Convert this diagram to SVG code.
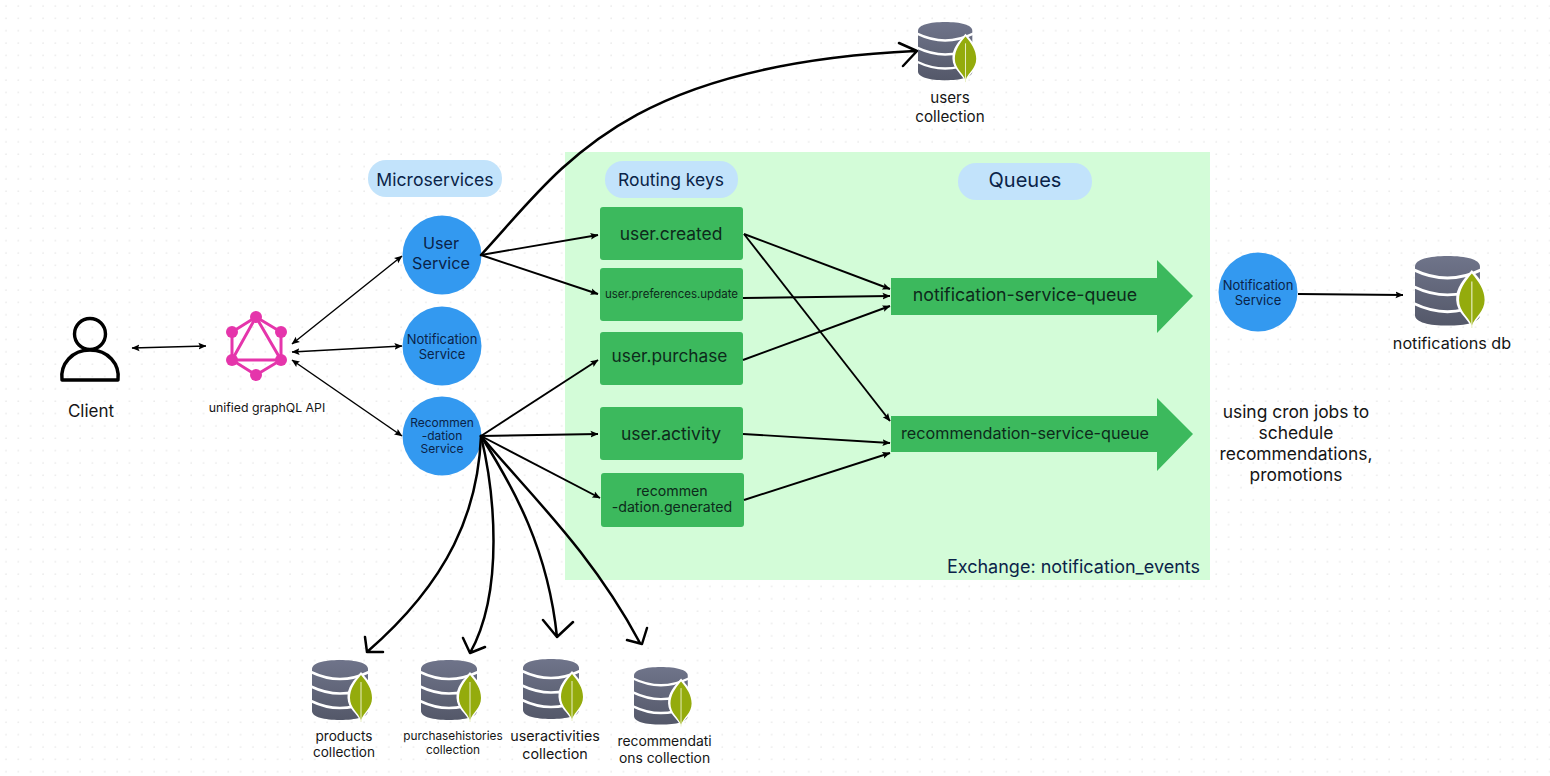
<svg xmlns="http://www.w3.org/2000/svg" width="1550" height="776" viewBox="0 0 1550 776">
<style>
text{font-family:"Inter","Noto Sans","Liberation Sans",sans-serif;fill:#151515;text-anchor:middle}
.c{fill:#3399f0}
.g{fill:#3cb95d}
.p{fill:#c2e3fb}
.n{fill:#0a2348}
.d{fill:#0d2a1b}
.l{fill:none;stroke:#000;stroke-width:1.9}
.t{fill:none;stroke:#000;stroke-width:1.5}
.a{marker-end:url(#ah)}
.b{marker-end:url(#ah);marker-start:url(#as)}
.o{fill:none;stroke:#000;stroke-width:2.5;stroke-linecap:round;stroke-linejoin:round}
.w{fill:none;stroke:#fff;stroke-width:2.5}
</style>
<defs>
<pattern id="dots" x="3" y="3" width="12.35" height="12.35" patternUnits="userSpaceOnUse"><circle cx="3" cy="3" r="0.9" fill="#ebebeb"/></pattern>
<marker id="ah" viewBox="0 0 8 8" refX="7.5" refY="4" markerWidth="8" markerHeight="8" orient="auto" markerUnits="userSpaceOnUse"><path d="M0 0.6L8 4L0 7.4L1.5 4Z" fill="#000"/></marker>
<marker id="as" viewBox="0 0 8 8" refX="0.5" refY="4" markerWidth="8" markerHeight="8" orient="auto" markerUnits="userSpaceOnUse"><path d="M8 0.6L0 4L8 7.4L6.5 4Z" fill="#000"/></marker>
<linearGradient id="dbg" x1="0" y1="0" x2="0" y2="1"><stop offset="0" stop-color="#6f748a"/><stop offset="1" stop-color="#545869"/></linearGradient>
<g id="db">
<path d="M0 9C0 3 12 0 28 0S56 3 56 9V51C56 57 44 60 28 60S0 57 0 51Z" fill="url(#dbg)"/>
<path class="w" d="M-1 12Q28 26 57 12M-1 26.500Q28 40.500 57 26.500M-1 41Q28 55 57 41"/>
<path d="M49 12C42 20 35 27 35.500 38C36 49 45 53 49 62C53 53 62 49 62.500 38C63 27 56 20 49 12Z" fill="#fff"/>
<path d="M49 15C43 22 38 29 38 38C38 48 46 52 49 60C52 52 60 48 60 38C60 29 55 22 49 15Z" fill="#94ab0c"/>
<path d="M49 22V62" stroke="#e9efc6" stroke-width="1"/>
</g>
</defs>
<rect width="1550" height="776" fill="#fff"/>
<rect width="1550" height="776" fill="url(#dots)"/>
<rect id="exchange" x="565" y="152" width="645" height="428" fill="#d3fcd8"/>
<text x="1073.500" y="573" font-size="18" class="n">Exchange: notification_events</text>

<g id="client">
<circle cx="90" cy="334" r="15.500" fill="none" stroke="#000" stroke-width="3.400"/>
<path d="M62 380C60 364 72 350 90 350S120 364 118 380Z" fill="none" stroke="#000" stroke-width="3.400" stroke-linejoin="round"/>
<text x="91" y="417" font-size="17">Client</text>
</g>

<g id="graphql">
<g fill="none" stroke="#e535ab" stroke-width="3"><path d="M256 317L281 332V360L256 375L232 360V332Z"/><path d="M256 317L281 360H232Z"/></g>
<g fill="#e535ab"><circle cx="256" cy="317" r="6"/><circle cx="281" cy="332" r="6"/><circle cx="281" cy="360" r="6"/><circle cx="256" cy="375" r="6"/><circle cx="232" cy="360" r="6"/><circle cx="232" cy="332" r="6"/></g>
<text x="267" y="412" font-size="12.300">unified graphQL API</text>
</g>

<g id="pill-microservices"><rect class="p" x="368" y="160" width="134" height="37" rx="18"/><text class="n" x="435" y="186" font-size="17.600">Microservices</text></g>
<g id="pill-routing"><rect class="p" x="605" y="161" width="133" height="37" rx="18"/><text class="n" x="671" y="186" font-size="17.500">Routing keys</text></g>
<g id="pill-queues"><rect class="p" x="958" y="163" width="134" height="37" rx="18"/><text class="n" x="1025" y="187" font-size="20">Queues</text></g>

<g id="user-service"><circle class="c" cx="442" cy="255" r="39.500"/><text class="n" x="441" y="249" font-size="16.200">User</text><text class="n" x="441" y="269" font-size="16.200">Service</text></g>
<g id="notification-service-a"><circle class="c" cx="442" cy="346" r="39.500"/><text class="n" x="442" y="344" font-size="13">Notification</text><text class="n" x="442" y="359" font-size="13">Service</text></g>
<g id="recommendation-service"><circle class="c" cx="442" cy="436" r="39.500"/><text class="n" x="442" y="427" font-size="12">Recommen</text><text class="n" x="442" y="439.500" font-size="12">-dation</text><text class="n" x="442" y="453" font-size="12">Service</text></g>
<g id="notification-service-b"><circle class="c" cx="1258" cy="292" r="39.500"/><text class="n" x="1258" y="290" font-size="13">Notification</text><text class="n" x="1258" y="305" font-size="13">Service</text></g>

<g id="key-user-created"><rect class="g" x="600" y="207" width="143" height="53" rx="3"/><text class="d" x="671" y="240" font-size="17.400">user.created</text></g>
<g id="key-user-preferences"><rect class="g" x="600" y="268" width="143" height="53" rx="3"/><text class="d" x="671.500" y="298" font-size="11.500">user.preferences.update</text></g>
<g id="key-user-purchase"><rect class="g" x="600" y="332" width="143" height="53" rx="3"/><text class="d" x="669.500" y="362" font-size="17.300">user.purchase</text></g>
<g id="key-user-activity"><rect class="g" x="600" y="407" width="143" height="53" rx="3"/><text class="d" x="671" y="440" font-size="17.500">user.activity</text></g>
<g id="key-recommendation"><rect class="g" x="601" y="473" width="143" height="54" rx="3"/><text class="d" x="672" y="496" font-size="14.200">recommen</text><text class="d" x="672" y="512" font-size="14.200">-dation.generated</text></g>

<g id="queue-notification"><path class="g" d="M891 278H1157V260L1193 296L1157 333V315H891Z"/><text class="d" x="1025" y="301" font-size="17.800">notification-service-queue</text></g>
<g id="queue-recommendation"><path class="g" d="M891 416H1157V398L1193 434L1157 471V452H891Z"/><text class="d" x="1025" y="439" font-size="16.200">recommendation-service-queue</text></g>

<text x="1296" y="418" font-size="17.400">using cron jobs to</text>
<text x="1296" y="439" font-size="17.400">schedule</text>
<text x="1296" y="460" font-size="17.400">recommendations,</text>
<text x="1296" y="481" font-size="17.400">promotions</text>

<g id="connectors">
<path class="t b" d="M132 348L206 346"/>
<path class="t b" d="M402 256L292 344"/>
<path class="t b" d="M402 346L292 352"/>
<path class="t b" d="M402 436L292 360"/>
<path class="l a" d="M481 255L598 235"/>
<path class="l a" d="M481 255L598 294"/>
<path class="l a" d="M481 436L598 360"/>
<path class="l a" d="M481 436L598 434"/>
<path class="l a" d="M481 436L600 498"/>
<path class="l a" d="M744 234L890 289"/>
<path class="l a" d="M743 298L890 296"/>
<path class="l a" d="M743 360L890 306"/>
<path class="l a" d="M744 234L890 421"/>
<path class="l a" d="M743 434L890 443"/>
<path class="l a" d="M744 500L890 453"/>
<path class="l a" d="M1298 294L1403 295"/>
<path class="o" d="M481 255C560 170 620 65 915 51M899 43L917 51L903 66"/>
<path class="o" d="M481 436C478 510 450 580 367 652M365 637L367 652L383 652"/>
<path class="o" d="M481 436C494 490 505 590 470 653M463 638L470 653L485 647"/>
<path class="o" d="M481 436C515 490 548 550 557 637M543 620L557 637L573 622"/>
<path class="o" d="M481 436C530 495 590 550 640 643M627 640L642 644L647 628"/>
</g>

<g id="db-users"><use href="#db" transform="translate(918 22) scale(.97)"/><text x="950" y="103" font-size="15.200">users</text><text x="950" y="122" font-size="15.200">collection</text></g>
<g id="db-notifications"><use href="#db" transform="translate(1415 256) scale(1.16)"/><text x="1452" y="349" font-size="16.200">notifications db</text></g>
<g id="db-products"><use href="#db" x="312" y="660"/><text x="344" y="741" font-size="13.600">products</text><text x="344" y="757" font-size="13.600">collection</text></g>
<g id="db-purchasehistories"><use href="#db" x="421" y="660"/><text x="453" y="740" font-size="11.800">purchasehistories</text><text x="453" y="754" font-size="11.800">collection</text></g>
<g id="db-useractivities"><use href="#db" x="523" y="659"/><text x="555" y="741" font-size="14.300">useractivities</text><text x="555" y="759" font-size="14.300">collection</text></g>
<g id="db-recommendations"><use href="#db" transform="translate(634 667) scale(.96)"/><text x="664.500" y="746" font-size="13.900">recommendati</text><text x="664.500" y="763" font-size="13.900">ons collection</text></g>
</svg>
